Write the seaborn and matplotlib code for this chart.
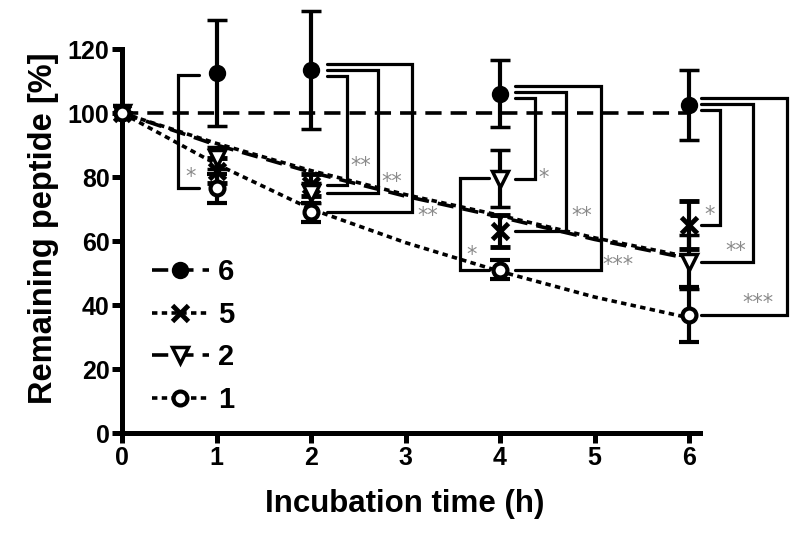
import numpy as np
import pandas as pd
import matplotlib
matplotlib.use("Agg")
import matplotlib.pyplot as plt
from matplotlib.lines import Line2D
import seaborn as sns

# --- dati ---
time_h = [0, 1, 2, 4, 6]

pep6_mean = [100, 112.5, 113.5, 106, 102.5]
pep6_err = [0, 16.5, 18.5, 10.5, 11]
pep5_mean = [100, 82, 77.5, 63, 65]
pep5_err = [0, 4, 3.5, 5, 7.5]
pep2_mean = [100, 86, 75, 79.5, 53.5]
pep2_err = [0, 3.5, 3, 9, 8.5]
pep1_mean = [100, 76.5, 69, 51, 37]
pep1_err = [0, 4.5, 3, 3, 8.5]

# curve di fit (lette a intervalli di 1 h)
fit_time = [0, 1, 2, 3, 4, 5, 6]
fit6 = [100, 100, 100, 100, 100, 100, 100]
fit5 = [100, 90.5, 82, 74.5, 68, 61, 55]
fit2 = [100, 90, 81.5, 74, 67.5, 60.5, 54.5]
fit1 = [100, 84, 70, 59.5, 50.5, 42.5, 36]

series_names = ["6", "5", "2", "1"]
means = {"6": pep6_mean, "5": pep5_mean, "2": pep2_mean, "1": pep1_mean}
errs = {"6": pep6_err, "5": pep5_err, "2": pep2_err, "1": pep1_err}
fits = {"6": fit6, "5": fit5, "2": fit2, "1": fit1}

# confronti statistici: (tempo, serie alta, serie bassa, etichetta)
comparisons = [
    (1, "6", "1", "*"),
    (2, "6", "5", "**"),
    (2, "6", "2", "**"),
    (2, "6", "1", "**"),
    (4, "2", "1", "*"),
    (4, "6", "2", "*"),
    (4, "6", "5", "**"),
    (4, "6", "1", "***"),
    (6, "6", "5", "*"),
    (6, "6", "2", "**"),
    (6, "6", "1", "***"),
]
# geometria delle parentesi: (lato, x verticale rel., fine braccio, offset alto, dx etichetta, dy etichetta)
bracket_geom = [
    (-1, -0.41, 0.18, -0.5, 0.14, 3.5),
    (1, 0.38, 0.17, -2.0, 0.15, 6.0),
    (1, 0.71, 0.17, 0.0, 0.14, 3.5),
    (1, 1.07, 0.17, 1.7, 0.17, -1.2),
    (-1, -0.42, 0.12, 0.2, 0.12, 4.5),
    (1, 0.37, 0.16, -1.4, 0.09, 0.3),
    (1, 0.70, 0.16, 0.5, 0.16, 4.8),
    (1, 1.07, 0.16, 2.5, 0.18, 1.5),
    (1, 0.33, 0.13, -1.6, -0.11, 3.0),
    (1, 0.68, 0.13, 0.3, -0.19, 3.5),
    (1, 1.04, 0.13, 2.1, -0.31, 3.5),
]

# --- stile ---
sns.set_theme(style="ticks", rc={"text.color": "black", "axes.labelcolor": "black",
                                 "xtick.color": "black", "ytick.color": "black",
                                 "axes.edgecolor": "black"})
plt.rcParams["font.family"] = ["Liberation Sans", "DejaVu Sans"]
plt.rcParams["font.weight"] = "bold"

LONG = (4.5, 2.5)
SHORT = (1.5, 1.2)
dash_map = {"6": LONG, "5": SHORT, "2": LONG, "1": SHORT}
marker_map = {
    "6": dict(marker="o", ms=10, mfc="black", mew=2.5),
    "5": dict(marker="x", ms=11, mfc="black", mew=3.5),
    "2": dict(marker="v", ms=12, mfc="white", mew=2.5),
    "1": dict(marker="o", ms=10, mfc="white", mew=3),
}

fig = plt.figure(figsize=(8, 5.33), dpi=100)
ax = fig.add_axes([0.1407, 0.1756, 0.8564, 0.8165])

# curve di fit con seaborn
fit_df = pd.DataFrame({
    "t": np.tile(fit_time, 4),
    "value": np.concatenate([fits[s] for s in series_names]),
    "serie": np.repeat(series_names, len(fit_time)),
})
sns.lineplot(data=fit_df, x="t", y="value", style="serie", dashes=dash_map,
             color="black", linewidth=2.6, estimator=None, sort=True,
             legend=False, ax=ax, zorder=2)

# punti con barre d'errore
for s in series_names:
    ax.errorbar(time_h, means[s], yerr=errs[s], ls="none", color="black",
                mec="black", ecolor="black", elinewidth=3, capsize=7,
                capthick=3, zorder=3, **marker_map[s])

# parentesi di significativita'
for (t, hi, lo, lab), (side, vx, arm, top_off, ldx, ldy) in zip(comparisons, bracket_geom):
    i = time_h.index(t)
    y_top = means[hi][i] + top_off
    y_bot = means[lo][i]
    xv = t + vx
    xa = t + side * arm
    ax.plot([xa, xv, xv, xa], [y_top, y_top, y_bot, y_bot], color="black",
            lw=2.3, solid_joinstyle="miter", zorder=1, clip_on=False)
    ax.text(xv + ldx, y_bot + ldy, lab, ha="center", va="center",
            color="#8a8a8a", fontsize=15, fontweight="normal",
            family="DejaVu Sans")

# assi
ax.set_xlim(-0.1, 7.15)
ax.set_ylim(-2, 134)
ax.set_xticks(range(7))
ax.set_yticks(range(0, 121, 20))
for side in ["top", "right"]:
    ax.spines[side].set_visible(False)
ax.spines["left"].set_position(("data", 0))
ax.spines["bottom"].set_position(("data", 0))
ax.spines["bottom"].set_bounds(0, 6.12)
ax.spines["left"].set_bounds(0, 120)
for side in ["left", "bottom"]:
    ax.spines[side].set_linewidth(3.6)
    ax.spines[side].set_color("black")
ax.tick_params(width=3.6, length=7, pad=2, labelsize=18, colors="black")
for lab in ax.get_xticklabels() + ax.get_yticklabels():
    lab.set_fontweight("bold")

ax.set_xlabel("Incubation time (h)", fontsize=22.5, fontweight="bold", color="black")
ax.set_ylabel("Remaining peptide [%]", fontsize=23.5, fontweight="bold", color="black")
ax.xaxis.set_label_coords(0.427, -0.114)
ax.yaxis.set_label_coords(-0.078, 0.485)

# legenda
handles = [Line2D([], [], color="black", ls=(0, dash_map[s]), lw=2.6, mec="black",
                  **marker_map[s]) for s in series_names]
leg = ax.legend(handles, series_names, loc="upper left", bbox_to_anchor=(0.0576, 0.4165),
                frameon=False, borderpad=0, borderaxespad=0, handlelength=1.95,
                handletextpad=0.3, labelspacing=0.5, labelcolor="black",
                prop={"size": 21, "weight": "bold"})

fig.savefig("out.png", dpi=100)
